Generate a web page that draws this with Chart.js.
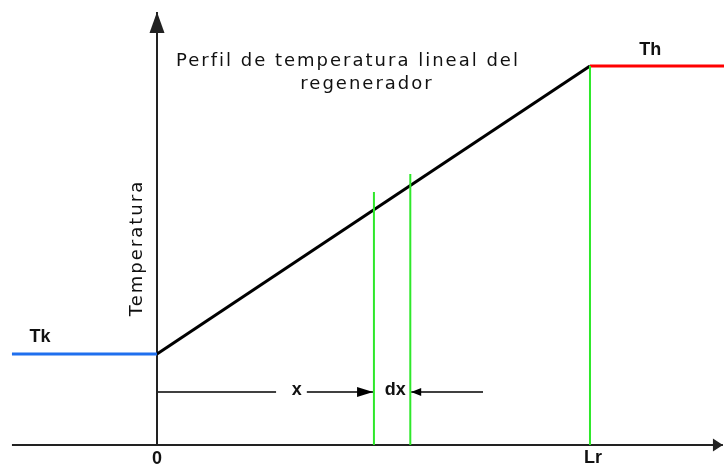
<!DOCTYPE html>
<html>
<head>
<meta charset="utf-8">
<script src="https://cdn.jsdelivr.net/npm/chart.js@4/dist/chart.umd.min.js"></script>
<style>
  html, body { margin: 0; padding: 0; background: #fff; }
  #wrap { width: 724px; height: 466px; }
</style>
</head>
<body>
<div id="wrap"><canvas id="chart"></canvas></div>
<script>
// position along the regenerator (Lr = 10) and temperature (axis at 0)
const Lr = 10;
const Tk = 91;
const Th = 379;

const coldX = [-3.35, 0];
const coldY = [Tk, Tk];
const profileX = [0, Lr];
const profileY = [Tk, Th];
const hotX = [Lr, 13.1];
const hotY = [Th, Th];

// green markers: slice x .. x+dx and the end of the regenerator
const markX = [5.01, 5.85, Lr];
const markTop = [253, 271, Th];

// axes and dimension arrows
const xAxisX = [-3.35, 13.07];
const yAxisY = [0, 433];
const xArrowX = [3.46, 4.99];
const xLeadX = [0, 2.75];
const dxArrowX = [7.53, 5.87];
const arrowY = 53;

const notes = [
  { text: 'Perfil de temperatura lineal del', x: 4.41, y: 384, font: '18px "DejaVu Sans"', spacing: '2px' },
  { text: 'regenerador', x: 4.85, y: 361, font: '18px "DejaVu Sans"', spacing: '2px' },
  { text: 'Temperatura', x: -0.46, y: 197, font: '18px "DejaVu Sans"', spacing: '2px', rotate: -90 },
  { text: 'Tk', x: -2.70, y: 108, font: 'bold 18px "Liberation Sans"' },
  { text: 'Th', x: 11.39, y: 395, font: 'bold 18px "Liberation Sans"' },
  { text: '0', x: 0, y: -14, font: 'bold 18px "Liberation Sans"' },
  { text: 'Lr', x: 10.07, y: -13, font: 'bold 18px "Liberation Sans"' },
  { text: 'x', x: 3.23, y: 55, font: 'bold 18px "Liberation Sans"' },
  { text: 'dx', x: 5.50, y: 55, font: 'bold 18px "Liberation Sans"' }
];

const pts = (xs, ys) => xs.map((x, i) => ({ x: x, y: Array.isArray(ys) ? ys[i] : ys }));

function line(data, color, width, extra) {
  return Object.assign({
    data: data,
    borderColor: color,
    backgroundColor: color,
    borderWidth: width,
    pointRadius: 0,
    tension: 0,
    fill: false,
    order: 1
  }, extra || {});
}

const datasets = [
  line(pts(coldX, coldY), '#1f6fee', 3),
  line(pts(profileX, profileY), '#000', 3),
  line(pts(hotX, hotY), '#ff0000', 3),
  line(pts(xAxisX, 0), '#222', 2, { arrow: { len: 10, w: 13 } }),
  line(pts([0, 0], yAxisY), '#222', 2, { arrow: { len: 21, w: 15 } }),
  line(pts(xLeadX, arrowY), '#000', 1.5),
  line(pts(xArrowX, arrowY), '#000', 1.5, { arrow: { len: 16, w: 10 } }),
  line(pts(dxArrowX, arrowY), '#000', 1.5, { arrow: { len: 10, w: 8 } })
];
markX.forEach((x, i) => {
  datasets.push(line(pts([x, x], [0, markTop[i]]), '#2ee82a', 2, { order: 0 }));
});

// arrowheads at the last point of a dataset
const arrowHeads = {
  id: 'arrowHeads',
  afterDatasetsDraw(chart) {
    const ctx = chart.ctx;
    chart.data.datasets.forEach((ds, i) => {
      if (!ds.arrow) return;
      const els = chart.getDatasetMeta(i).data;
      const tip = els[els.length - 1], prev = els[els.length - 2];
      const ang = Math.atan2(tip.y - prev.y, tip.x - prev.x);
      ctx.save();
      ctx.translate(tip.x, tip.y);
      ctx.rotate(ang);
      ctx.beginPath();
      ctx.moveTo(0, 0);
      ctx.lineTo(-ds.arrow.len, -ds.arrow.w / 2);
      ctx.lineTo(-ds.arrow.len, ds.arrow.w / 2);
      ctx.closePath();
      ctx.fillStyle = ds.borderColor;
      ctx.fill();
      ctx.restore();
    });
  }
};

// text labels placed through the scales
const textNotes = {
  id: 'textNotes',
  afterDraw(chart) {
    const ctx = chart.ctx;
    const sx = chart.scales.x, sy = chart.scales.y;
    notes.forEach(n => {
      ctx.save();
      ctx.translate(sx.getPixelForValue(n.x), sy.getPixelForValue(n.y));
      if (n.rotate) ctx.rotate(n.rotate * Math.PI / 180);
      ctx.font = n.font;
      if (n.spacing) ctx.letterSpacing = n.spacing;
      ctx.fillStyle = '#111';
      ctx.textAlign = 'center';
      ctx.textBaseline = 'middle';
      ctx.fillText(n.text, 0, 0);
      ctx.restore();
    });
  }
};

new Chart(document.getElementById('chart'), {
  type: 'line',
  data: { datasets: datasets },
  options: {
    responsive: true,
    maintainAspectRatio: false,
    animation: false,
    events: [],
    layout: { padding: 0, autoPadding: false },
    plugins: { legend: { display: false }, tooltip: { enabled: false } },
    scales: {
      x: { type: 'linear', min: -3.626, max: 13.095, display: false },
      y: { type: 'linear', min: -21, max: 445, display: false }
    }
  },
  plugins: [arrowHeads, textNotes]
});
</script>
</body>
</html>
